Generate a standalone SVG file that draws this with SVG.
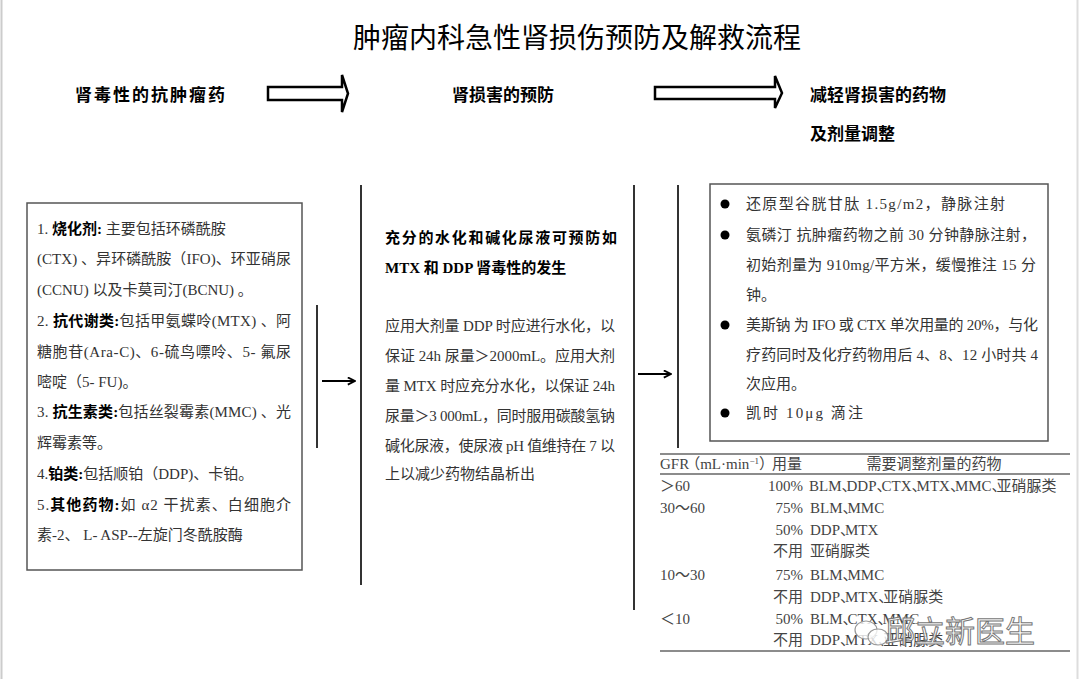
<svg xmlns="http://www.w3.org/2000/svg" width="1080" height="679" viewBox="0 0 1080 679">
<style>
.t{font-family:"Liberation Serif","Noto Sans CJK SC",serif;font-size:15px;fill:#333}
.b{font-weight:bold;fill:#000}
.h{font-family:"Noto Sans CJK SC","Liberation Sans",sans-serif;font-size:17px;font-weight:bold;fill:#000}
.tb{font-family:"Liberation Serif","Noto Sans CJK SC",serif;font-size:15px;fill:#444}
.box{fill:#fff;stroke:#555;stroke-width:1.5}
.vl{stroke:#333;stroke-width:2}
.hol{fill:#fff;stroke:#000;stroke-width:2.5;stroke-linejoin:miter}
.ar{stroke:#000;stroke-width:2;fill:none}
.rl{stroke:#666;stroke-width:1.5}
</style>
<defs>
<marker id="ah" viewBox="0 0 10 10" refX="9" refY="5" markerWidth="9" markerHeight="9" markerUnits="userSpaceOnUse" orient="auto">
<path d="M1,1 L9,5 L1,9" fill="none" stroke="#000" stroke-width="2"/>
</marker>
</defs>
<rect width="1080" height="679" fill="#fff"/>
<line x1="1.5" y1="0" x2="1.5" y2="679" stroke="#ccc" stroke-width="2"/>
<line x1="1077.5" y1="0" x2="1077.5" y2="679" stroke="#ddd" stroke-width="2"/>

<g id="title">
<text x="577" y="48" text-anchor="middle" font-family="Noto Sans CJK SC, sans-serif" font-size="28" fill="#000">肿瘤内科急性肾损伤预防及解救流程</text>
</g>

<g id="header1"><text class="h" x="75" y="101" letter-spacing="2">肾毒性的抗肿瘤药</text></g>
<g id="header2"><text class="h" x="452" y="101">肾损害的预防</text></g>
<g id="header3"><text class="h" x="810" y="101">减轻肾损害的药物</text><text class="h" x="810" y="140">及剂量调整</text></g>

<g id="connectors">
<polygon class="hol" points="268,87 342,87 342,75 348,93.5 342,112 342,100 268,100"/>
<polygon class="hol" points="655,87 775,87 775,76 782,93 775,108 775,99 655,99"/>
<line class="vl" x1="361" y1="185" x2="361" y2="585"/>
<line class="vl" x1="634" y1="185" x2="634" y2="610"/>
<line class="vl" x1="678" y1="185" x2="678" y2="448"/>
<line class="vl" x1="317" y1="305" x2="317" y2="448"/>
<line class="ar" x1="322" y1="381" x2="355" y2="381" marker-end="url(#ah)"/>
<line class="ar" x1="638" y1="374" x2="671" y2="374" marker-end="url(#ah)"/>
</g>

<g id="left-box">
<rect class="box" x="27" y="203" width="275" height="367"/>
<text class="t" x="37" y="234">1.  <tspan class="b">烧化剂:</tspan> 主要包括环磷酰胺</text>
<text class="t" x="37" y="264" textLength="254" lengthAdjust="spacing">(CTX) 、异环磷酰胺（IFO)、环亚硝尿</text>
<text class="t" x="37" y="295">(CCNU) 以及卡莫司汀(BCNU) 。</text>
<text class="t" x="37" y="326" textLength="254" lengthAdjust="spacing">2.  <tspan class="b">抗代谢类:</tspan>包括甲氨蝶呤(MTX) 、阿</text>
<text class="t" x="37" y="357" textLength="254" lengthAdjust="spacing">糖胞苷(Ara-C)、6-硫鸟嘌呤、5- 氟尿</text>
<text class="t" x="37" y="387">嘧啶（5- FU)。</text>
<text class="t" x="37" y="417" textLength="254" lengthAdjust="spacing">3.  <tspan class="b">抗生素类:</tspan>包括丝裂霉素(MMC) 、光</text>
<text class="t" x="37" y="448">辉霉素等。</text>
<text class="t" x="37" y="479">4.<tspan class="b">铂类:</tspan>包括顺铂（DDP)、卡铂。</text>
<text class="t" x="37" y="510" textLength="254" lengthAdjust="spacing">5.<tspan class="b">其他药物:</tspan>如 α2 干扰素、白细胞介</text>
<text class="t" x="37" y="540">素-2、 L- ASP--左旋门冬酰胺酶</text>
</g>

<g id="middle-text">
<text class="t b" x="385" y="243" font-size="16" textLength="232" lengthAdjust="spacing">充分的水化和碱化尿液可预防如</text>
<text class="t b" x="385" y="273" font-size="16">MTX 和 DDP 肾毒性的发生</text>
<text class="t" x="385" y="331" textLength="230" lengthAdjust="spacing">应用大剂量 DDP 时应进行水化，以</text>
<text class="t" x="385" y="361" textLength="230" lengthAdjust="spacing">保证 24h 尿量＞2000mL。应用大剂</text>
<text class="t" x="385" y="391" textLength="230" lengthAdjust="spacing">量 MTX 时应充分水化，以保证 24h</text>
<text class="t" x="385" y="421" textLength="230" lengthAdjust="spacing">尿量＞3 000mL，同时服用碳酸氢钠</text>
<text class="t" x="385" y="451" textLength="230" lengthAdjust="spacing">碱化尿液，使尿液 pH 值维持在 7 以</text>
<text class="t" x="385" y="479">上以减少药物结晶析出</text>
</g>

<g id="right-box">
<rect class="box" x="710" y="184" width="338" height="257"/>
<circle cx="725" cy="204" r="4.5" fill="#000"/>
<circle cx="725" cy="235" r="4.5" fill="#000"/>
<circle cx="725" cy="325" r="4.5" fill="#000"/>
<circle cx="725" cy="413" r="4.5" fill="#000"/>
<text class="t" x="746" y="209" textLength="259" lengthAdjust="spacing">还原型谷胱甘肽  1.5g/m2，静脉注射</text>
<text class="t" x="746" y="240" textLength="290" lengthAdjust="spacing">氨磷汀 抗肿瘤药物之前 30 分钟静脉注射，</text>
<text class="t" x="746" y="270" textLength="290" lengthAdjust="spacing">初始剂量为 910mg/平方米，缓慢推注 15 分</text>
<text class="t" x="746" y="300">钟。</text>
<text class="t" x="746" y="330" textLength="292" lengthAdjust="spacing">美斯钠 为 IFO 或 CTX 单次用量的 20%，与化</text>
<text class="t" x="746" y="360" textLength="292" lengthAdjust="spacing">疗药同时及化疗药物用后 4、8、12 小时共 4</text>
<text class="t" x="746" y="389">次应用。</text>
<text class="t" x="746" y="418" textLength="117" lengthAdjust="spacing">凯时  10μg 滴注</text>
</g>

<g id="gfr-table">
<line class="rl" x1="660" y1="454" x2="1070" y2="454"/>
<line class="rl" x1="660" y1="474" x2="1070" y2="474"/>
<line class="rl" x1="660" y1="651" x2="1070" y2="651"/>
<text class="tb" x="660" y="469" font-size="14">GFR<tspan dx="-4">（</tspan>mL·min<tspan font-size="9" dy="-5">−1</tspan><tspan dy="5">）</tspan></text>
<text class="tb" x="772" y="469" font-size="14.5">用量</text>
<text class="tb" x="934" y="469" font-size="14.5" text-anchor="middle">需要调整剂量的药物</text>
<text class="tb" x="660" y="491">＞60</text>
<text class="tb" x="660" y="513">30～60</text>
<text class="tb" x="660" y="580">10～30</text>
<text class="tb" x="660" y="624">＜10</text>
<g text-anchor="end">
<text class="tb" x="803" y="491">100%</text>
<text class="tb" x="803" y="513">75%</text>
<text class="tb" x="803" y="535">50%</text>
<text class="tb" x="803" y="556">不用</text>
<text class="tb" x="803" y="580">75%</text>
<text class="tb" x="803" y="602">不用</text>
<text class="tb" x="803" y="624">50%</text>
<text class="tb" x="803" y="645">不用</text>
</g>
<text class="tb" x="809" y="491">BLM、<tspan dx="-10">DDP、</tspan><tspan dx="-10">CTX、</tspan><tspan dx="-10">MTX、</tspan><tspan dx="-10">MMC、</tspan><tspan dx="-10">亚硝脲类</tspan></text>
<text class="tb" x="810" y="513">BLM、<tspan dx="-10">MMC</tspan></text>
<text class="tb" x="810" y="535">DDP、<tspan dx="-10">MTX</tspan></text>
<text class="tb" x="810" y="556">亚硝脲类</text>
<text class="tb" x="810" y="580">BLM、<tspan dx="-10">MMC</tspan></text>
<text class="tb" x="810" y="602">DDP、<tspan dx="-10">MTX、</tspan><tspan dx="-10">亚硝脲类</tspan></text>
<text class="tb" x="810" y="624">BLM、<tspan dx="-10">CTX、</tspan><tspan dx="-10">MMC</tspan></text>
<text class="tb" x="810" y="645">DDP、<tspan dx="-10">MTX、</tspan><tspan dx="-10">亚硝脲类</tspan></text>
</g>

<g id="watermark">
<ellipse cx="866" cy="630" rx="11" ry="9" fill="#fff" fill-opacity="0.8" stroke="#999" stroke-width="1.2"/>
<ellipse cx="878" cy="637" rx="10" ry="8" fill="#fff" fill-opacity="0.8" stroke="#999" stroke-width="1.2"/>
<text x="885" y="642" font-family="Noto Sans CJK SC, sans-serif" font-size="30" fill="#fff" fill-opacity="0.85" stroke="#777" stroke-width="1">邱立新医生</text>
</g>
</svg>
